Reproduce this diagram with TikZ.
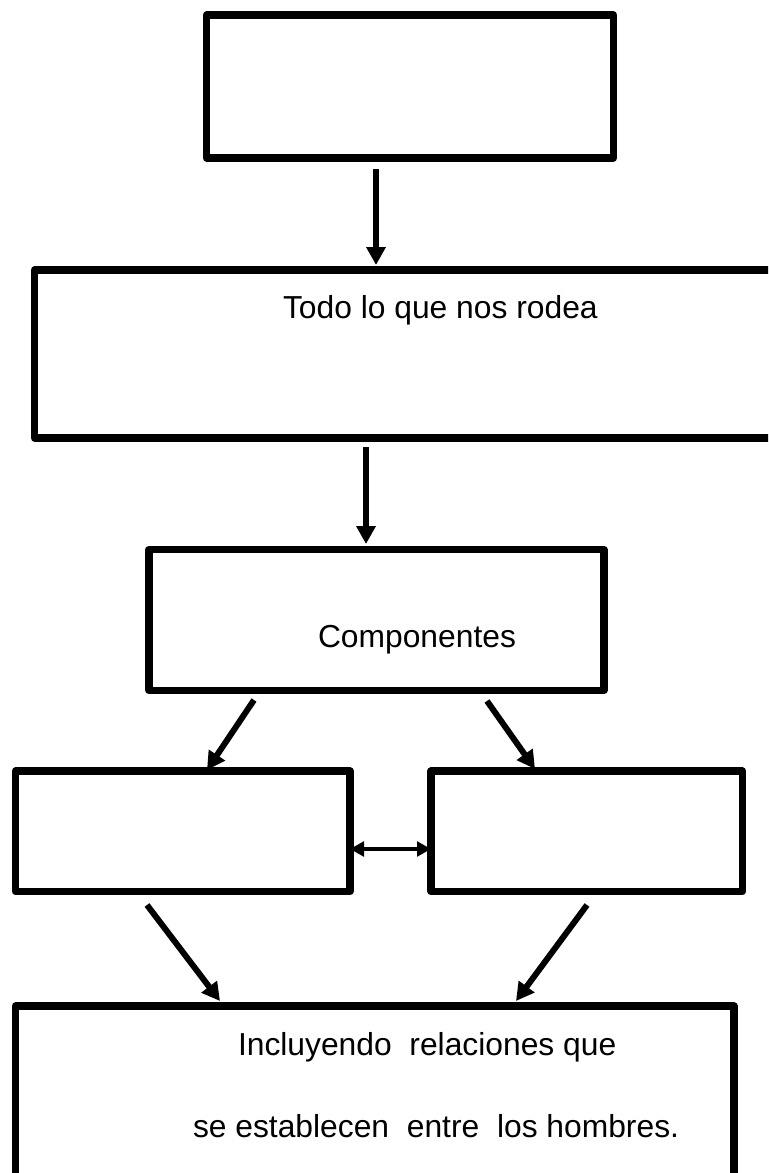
\documentclass[tikz,border=0pt]{standalone}
\usepackage{fontspec}
\setmainfont{Liberation Sans}
\usetikzlibrary{arrows.meta,fit}
\begin{document}
\begin{tikzpicture}[x=0.75pt,y=-0.75pt,
  box/.style={draw=black,line width=5.4pt,line join=round,inner sep=0pt,outer sep=0pt,rectangle},
  arr/.style={line width=4.5pt,-{Triangle[length=13.5pt,width=14pt]}},
  darr/.style={line width=3.3pt,{Triangle[length=10.5pt,width=11pt]}-{Triangle[length=10.5pt,width=11pt]}},
  lbl/.style={anchor=base west,inner sep=0pt,outer sep=0pt,font=\fontsize{23.85pt}{28pt}\selectfont}]
\clip (0,0) rectangle (768,1173);
\fill[white] (0,0) rectangle (768,1173);
% boxes
\node[box,fit={(206.5,15) (613.5,158)}] (top) {};
\node[box,fit={(34.5,270) (800,438)}] (todo) {};
\node[box,fit={(149,549.5) (604,690.5)}] (comp) {};
\node[box,fit={(15.5,771) (350,891.5)}] (left) {};
\node[box,fit={(431,771) (742.5,891.5)}] (right) {};
\node[box,fit={(15.5,1006) (734,1200)}] (incl) {};
% texts
\node[lbl] (t1) at (283,318) {Todo lo que nos rodea};
\node[lbl] (t2) at (318,647) {Componentes};
\node[lbl] (t3) at (238,1055) {Incluyendo\ \ relaciones que};
\node[lbl] (t4) at (193,1137) {se establecen\ \ entre\ \ los hombres.};
% arrow start/end coordinates
\coordinate (a1s) at (376,169);
\coordinate (a1e) at (376,265);
\coordinate (a2s) at (366,447);
\coordinate (a2e) at (366,544);
\coordinate (a3s) at (254,700);
\coordinate (a3e) at (207,770);
\coordinate (a4s) at (487,701);
\coordinate (a4e) at (535,769);
\coordinate (a5s) at (147,905);
\coordinate (a5e) at (220,1001);
\coordinate (a6s) at (587,905);
\coordinate (a6e) at (516,1001);
% connectors
\draw[arr] (a1s) -- (a1e);
\draw[arr] (a2s) -- (a2e);
\draw[arr] (a3s) -- (a3e);
\draw[arr] (a4s) -- (a4e);
\draw[arr] (a5s) -- (a5e);
\draw[arr] (a6s) -- (a6e);
\draw[darr] (left.east |- 0,849) -- (right.west |- 0,849);
\end{tikzpicture}
\end{document}
